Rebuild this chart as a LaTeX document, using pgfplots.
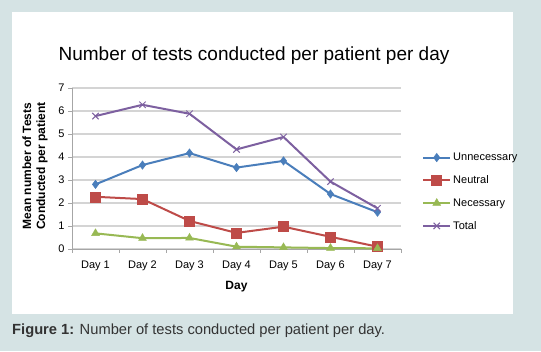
\documentclass[border=0pt]{standalone}
\usepackage{pgfplots}
\pgfplotsset{compat=1.18}
\usepackage{fontspec}
\setmainfont{Liberation Sans}
\definecolor{bgc}{HTML}{D5E3E4}
\definecolor{cU}{HTML}{4A7EBB}
\definecolor{cN}{HTML}{BE4B48}
\definecolor{cR}{HTML}{98B954}
\definecolor{cT}{HTML}{7D60A0}
\definecolor{gridc}{HTML}{D4D4D4}
\definecolor{capc}{HTML}{333333}
\begin{document}
\begin{tikzpicture}[x=1pt,y=1pt]
\useasboundingbox (0,0) rectangle (541,351);
\fill[bgc] (0,0) rectangle (541,351);
\fill[white] (12,37) rectangle (513,339);
\node[font=\fontsize{19}{22}\selectfont, text=black] at (254,295) {Number of tests conducted per patient per day};
\node[font=\fontsize{12}{14}\selectfont\bfseries, rotate=90, align=center] at (35,185) {Mean number of Tests\\Conducted per patient};
\node[font=\fontsize{14.7}{17}\selectfont, text=capc, anchor=west, inner sep=0] at (12,20) {\textbf{Figure 1:} Number of tests conducted per patient per day.};
\begin{axis}[
  at={(72pt,102pt)}, anchor=south west,
  scale only axis, width=329pt, height=161pt,
  xmin=0.5, xmax=7.5, ymin=0, ymax=7,
  xtick={1,...,7},
  xticklabels={Day 1,Day 2,Day 3,Day 4,Day 5,Day 6,Day 7},
  minor xtick={0.5,1.5,...,7.5},
  ytick={0,...,7},
  tick pos=left, tick align=outside,
  major tick length=4pt, minor tick length=4pt,
  x tick style={draw=none},
  minor x tick style={draw=gray!70, line width=0.8pt},
  y tick style={draw=gray!70, line width=0.8pt},
  ymajorgrids, grid style={gridc, line width=1.5pt},
  axis x line*=bottom, axis y line*=left,
  axis line style={gray!70, line width=0.8pt, -},
  ticklabel style={font=\fontsize{11}{13}\selectfont},
  xticklabel style={yshift=-4pt},
  /pgf/number format/assume math mode=true,
  xlabel={\textbf{Day}},
  xlabel style={font=\fontsize{12}{14}\selectfont, yshift=-4pt},
  every axis plot/.append style={line width=2pt},
  legend style={at={(1.064,0.355)}, anchor=west, draw=none, fill=none, inner sep=0pt,
    font=\fontsize{11}{13}\selectfont, row sep=9.5pt, cells={anchor=west}},
  legend image code/.code={
    \draw[#1] (0pt,0pt) -- (27pt,0pt);
    \draw[#1, mark repeat=2, mark phase=2] plot coordinates {(0pt,0pt) (13.5pt,0pt) (27pt,0pt)};
  },
  clip=false,
]
\addplot[cU, mark=diamond*, mark size=4.2pt, mark options={solid, fill=cU, line width=0.5pt}] coordinates {
(1,2.81) (2,3.65) (3,4.17) (4,3.54) (5,3.83) (6,2.39) (7,1.60)};
\addlegendentry{Unnecessary}
\addplot[cN, mark=square*, mark size=5pt, mark options={solid, fill=cN, line width=0.5pt}] coordinates {
(1,2.27) (2,2.17) (3,1.22) (4,0.70) (5,0.97) (6,0.53) (7,0.10)};
\addlegendentry{Neutral}
\addplot[cR, mark=triangle*, mark size=4.5pt, mark options={solid, fill=cR, line width=0.5pt}] coordinates {
(1,0.68) (2,0.47) (3,0.48) (4,0.10) (5,0.07) (6,0.04) (7,0.03)};
\addlegendentry{Necessary}
\addplot[cT, mark=x, mark size=4.5pt, mark options={solid, line width=1pt}] coordinates {
(1,5.78) (2,6.27) (3,5.88) (4,4.33) (5,4.87) (6,2.93) (7,1.77)};
\addlegendentry{Total}
\end{axis}
\end{tikzpicture}
\end{document}
